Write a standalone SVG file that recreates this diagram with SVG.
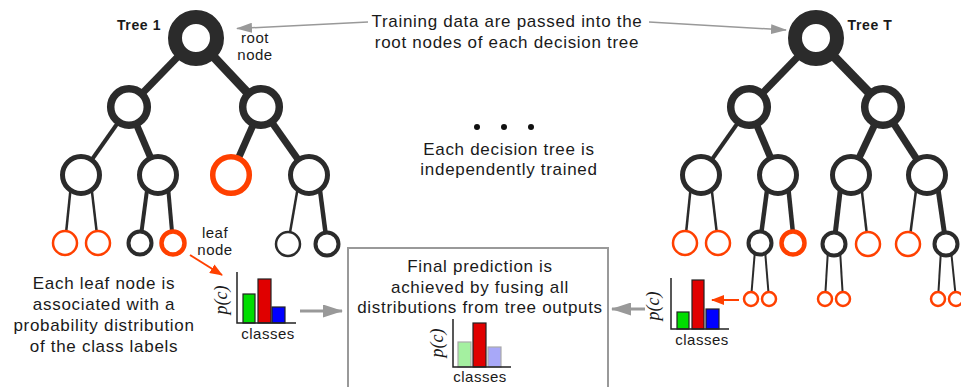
<svg xmlns="http://www.w3.org/2000/svg" width="961" height="387" viewBox="0 0 961 387">
<defs>
<style>
.e{stroke:#2b2b2b;fill:none}
.n{fill:#fff;stroke:#2b2b2b}
.o{fill:#fff;stroke:#ff4000}
.t{font-family:"Liberation Sans",Arial,sans-serif;font-size:17px;letter-spacing:0.7px;fill:#1a1a1a;text-anchor:middle}
.s{font-size:15px;letter-spacing:0.5px}
.b{font-size:14px;font-weight:bold;letter-spacing:0.6px}
.pc{font-family:"Liberation Serif","Times New Roman",serif;font-style:italic;font-size:18px;fill:#1a1a1a;text-anchor:middle}
.ax{stroke:#222;stroke-width:1.5;fill:none}
.g1{stroke:#999;stroke-width:1.5;fill:none}
.g3{stroke:#999;stroke-width:3;fill:none}
.or{stroke:#ff4000;stroke-width:2;fill:none}
</style>
<marker id="ahg" markerUnits="userSpaceOnUse" markerWidth="16" markerHeight="10" refX="15" refY="5" orient="auto"><path d="M0,0L16,5L0,10z" fill="#999"/></marker>
<marker id="ahg2" markerUnits="userSpaceOnUse" markerWidth="20" markerHeight="13" refX="19" refY="6.5" orient="auto"><path d="M0,0L20,6.5L0,13z" fill="#999"/></marker>
<marker id="aho" markerUnits="userSpaceOnUse" markerWidth="13" markerHeight="10" refX="12" refY="5" orient="auto"><path d="M0,0L13,5L0,10z" fill="#ff4000"/></marker>
</defs>
<rect width="961" height="387" fill="#fff"/>

<g id="connectors">
<!-- Tree 1 edges -->
<line class="e" stroke-width="7" x1="196" y1="38" x2="129" y2="107"/>
<line class="e" stroke-width="9" x1="196" y1="38" x2="261" y2="107"/>
<line class="e" stroke-width="4" x1="129" y1="107" x2="81" y2="175"/>
<line class="e" stroke-width="7" x1="129" y1="107" x2="158" y2="175"/>
<line class="e" stroke-width="7" x1="261" y1="107" x2="231" y2="175"/>
<line class="e" stroke-width="7" x1="261" y1="107" x2="309" y2="175"/>
<line class="e" stroke-width="2.5" x1="72" y1="175" x2="65" y2="243"/>
<line class="e" stroke-width="2.5" x1="90" y1="175" x2="98" y2="243"/>
<line class="e" stroke-width="4" x1="149" y1="175" x2="140" y2="243"/>
<line class="e" stroke-width="4" x1="167" y1="175" x2="173" y2="243"/>
<line class="e" stroke-width="2.5" x1="300" y1="175" x2="288" y2="244"/>
<line class="e" stroke-width="4.5" x1="318" y1="175" x2="327" y2="244"/>
<!-- Tree T edges -->
<line class="e" stroke-width="7" x1="816" y1="38" x2="749" y2="107"/>
<line class="e" stroke-width="9" x1="816" y1="38" x2="883" y2="107"/>
<line class="e" stroke-width="4" x1="749" y1="107" x2="701" y2="175"/>
<line class="e" stroke-width="7" x1="749" y1="107" x2="778" y2="175"/>
<line class="e" stroke-width="7" x1="883" y1="107" x2="851" y2="175"/>
<line class="e" stroke-width="7" x1="883" y1="107" x2="927" y2="175"/>
<line class="e" stroke-width="2.5" x1="692" y1="175" x2="685" y2="243"/>
<line class="e" stroke-width="2.5" x1="710" y1="175" x2="718" y2="243"/>
<line class="e" stroke-width="4.5" x1="769" y1="175" x2="760" y2="243"/>
<line class="e" stroke-width="4.5" x1="787" y1="175" x2="794" y2="243"/>
<line class="e" stroke-width="5" x1="842" y1="175" x2="834" y2="244"/>
<line class="e" stroke-width="2.5" x1="860" y1="175" x2="868" y2="244"/>
<line class="e" stroke-width="2.5" x1="918" y1="175" x2="909" y2="244"/>
<line class="e" stroke-width="5" x1="936" y1="175" x2="946" y2="244"/>
<line class="e" stroke-width="2" x1="755" y1="250" x2="751" y2="299"/>
<line class="e" stroke-width="2" x1="765" y1="250" x2="769" y2="299"/>
<line class="e" stroke-width="2" x1="828" y1="250" x2="825" y2="299"/>
<line class="e" stroke-width="2" x1="840" y1="250" x2="843" y2="299"/>
<line class="e" stroke-width="2" x1="941" y1="250" x2="938" y2="299"/>
<line class="e" stroke-width="2" x1="951" y1="250" x2="956" y2="299"/>
<!-- annotation arrows -->
<path class="g1" d="M368,22L237,28.5" marker-end="url(#ahg)"/>
<path class="g1" d="M649,22L786,30" marker-end="url(#ahg)"/>
<path class="or" d="M190,255L222,275" marker-end="url(#aho)"/>
<path class="or" d="M739,300L712,300" marker-end="url(#aho)"/>
<path class="g3" d="M300,311L342,311" marker-end="url(#ahg2)"/>
<path class="g3" d="M645,309L612,309" marker-end="url(#ahg2)"/>
</g>

<g id="tree1">
<g id="t1-root"><circle class="n" cx="196" cy="38" r="21" stroke-width="14"/></g>
<g id="t1-l"><circle class="n" cx="129" cy="107" r="18.3" stroke-width="7.5"/></g>
<g id="t1-r"><circle class="n" cx="261" cy="107" r="18.3" stroke-width="7.5"/></g>
<g id="t1-ll"><circle class="n" cx="81" cy="175" r="18.5" stroke-width="5"/></g>
<g id="t1-lr"><circle class="n" cx="158" cy="175" r="18.5" stroke-width="5"/></g>
<g id="t1-rl"><circle class="o" cx="231" cy="175" r="18.3" stroke-width="5.5"/></g>
<g id="t1-rr"><circle class="n" cx="309" cy="175" r="18.5" stroke-width="5"/></g>
<g id="t1-lll"><circle class="o" cx="65" cy="243" r="12" stroke-width="2.5"/></g>
<g id="t1-llr"><circle class="o" cx="98" cy="243" r="12" stroke-width="2.5"/></g>
<g id="t1-lrl"><circle class="n" cx="140" cy="243" r="11.5" stroke-width="4"/></g>
<g id="t1-lrr"><circle class="o" cx="173" cy="243" r="11.5" stroke-width="4.5"/></g>
<g id="t1-rrl"><circle class="n" cx="288" cy="244" r="12" stroke-width="2.5"/></g>
<g id="t1-rrr"><circle class="n" cx="327" cy="244" r="11.5" stroke-width="4"/></g>
</g>

<g id="treeT">
<g id="tT-root"><circle class="n" cx="816" cy="38" r="21" stroke-width="14"/></g>
<g id="tT-l"><circle class="n" cx="749" cy="107" r="18.3" stroke-width="7.5"/></g>
<g id="tT-r"><circle class="n" cx="883" cy="107" r="18.3" stroke-width="7.5"/></g>
<g id="tT-ll"><circle class="n" cx="701" cy="175" r="18.5" stroke-width="5"/></g>
<g id="tT-lr"><circle class="n" cx="778" cy="175" r="18.5" stroke-width="5"/></g>
<g id="tT-rl"><circle class="n" cx="851" cy="175" r="18.5" stroke-width="5"/></g>
<g id="tT-rr"><circle class="n" cx="927" cy="175" r="18.5" stroke-width="5"/></g>
<g id="tT-lll"><circle class="o" cx="685" cy="243" r="12" stroke-width="2.5"/></g>
<g id="tT-llr"><circle class="o" cx="718" cy="243" r="12" stroke-width="2.5"/></g>
<g id="tT-lrl"><circle class="n" cx="760" cy="243" r="11.5" stroke-width="4"/></g>
<g id="tT-lrr"><circle class="o" cx="793" cy="243" r="11.5" stroke-width="4.5"/></g>
<g id="tT-rll"><circle class="n" cx="834" cy="244" r="11.5" stroke-width="4"/></g>
<g id="tT-rlr"><circle class="o" cx="868" cy="244" r="12" stroke-width="2.5"/></g>
<g id="tT-rrl"><circle class="o" cx="908" cy="244" r="12" stroke-width="2.5"/></g>
<g id="tT-rrr"><circle class="n" cx="946" cy="244" r="11.5" stroke-width="4"/></g>
<g id="tT-l5a"><circle class="o" cx="751" cy="299" r="7" stroke-width="2.5"/></g>
<g id="tT-l5b"><circle class="o" cx="769" cy="299" r="7" stroke-width="2.5"/></g>
<g id="tT-l5c"><circle class="o" cx="825" cy="299" r="7" stroke-width="2.5"/></g>
<g id="tT-l5d"><circle class="o" cx="843" cy="299" r="7" stroke-width="2.5"/></g>
<g id="tT-l5e"><circle class="o" cx="938" cy="299" r="7" stroke-width="2.5"/></g>
<g id="tT-l5f"><circle class="o" cx="956" cy="299" r="7" stroke-width="2.5"/></g>
</g>

<g id="hist-leaf1">
<rect x="243" y="294" width="12" height="29" fill="#00dd00" stroke="#222" stroke-width="1.2"/>
<rect x="258" y="279" width="13" height="44" fill="#e00000" stroke="#222" stroke-width="1.2"/>
<rect x="272" y="307" width="13" height="16" fill="#0000ff" stroke="#222" stroke-width="1.2"/>
<path class="ax" d="M237,272V323H296"/>
<text class="pc" transform="translate(227,300) rotate(-90)">p(c)</text>
<text class="t s" x="268" y="339">classes</text>
</g>

<g id="hist-leafT">
<rect x="677" y="312" width="12" height="17" fill="#00dd00" stroke="#222" stroke-width="1.2"/>
<rect x="692" y="280" width="12" height="49" fill="#e00000" stroke="#222" stroke-width="1.2"/>
<rect x="706" y="309" width="13" height="20" fill="#0000ff" stroke="#222" stroke-width="1.2"/>
<path class="ax" d="M671,278V329H729"/>
<text class="pc" transform="translate(659,306) rotate(-90)">p(c)</text>
<text class="t s" x="702" y="345">classes</text>
</g>

<g id="final-box">
<rect x="348" y="248" width="260" height="150" fill="none" stroke="#999" stroke-width="2"/>
<text class="t" x="480" y="272">Final prediction is</text>
<text class="t" x="480" y="293">achieved by fusing all</text>
<text class="t" x="480" y="313">distributions from tree outputs</text>
<rect x="458" y="342" width="13" height="25" fill="#a4f0a0" stroke="#aaa" stroke-width="1.2"/>
<rect x="473" y="323" width="13" height="44" fill="#e00000" stroke="#222" stroke-width="1.2"/>
<rect x="488" y="347" width="13" height="20" fill="#a8a8f8" stroke="#aaa" stroke-width="1.2"/>
<path class="ax" d="M453,319V367H511"/>
<text class="pc" transform="translate(443,343) rotate(-90)">p(c)</text>
<text class="t s" x="480" y="382">classes</text>
</g>

<g id="labels">
<text class="t b" x="139" y="30">Tree 1</text>
<text class="t b" x="870" y="30">Tree T</text>
<text class="t s" x="255" y="43">root</text>
<text class="t s" x="255" y="60">node</text>
<text class="t s" x="215" y="238">leaf</text>
<text class="t s" x="215" y="255">node</text>
<text class="t" x="507" y="27">Training data are passed into the</text>
<text class="t" x="507" y="48">root nodes of each decision tree</text>
<circle cx="477" cy="127" r="3" fill="#111"/>
<circle cx="504" cy="127" r="3" fill="#111"/>
<circle cx="531" cy="127" r="3" fill="#111"/>
<text class="t" x="509" y="155">Each decision tree is</text>
<text class="t" x="509" y="175">independently trained</text>
<text class="t" x="104" y="289">Each leaf node is</text>
<text class="t" x="104" y="310">associated with a</text>
<text class="t" x="104" y="331">probability distribution</text>
<text class="t" x="104" y="352">of the class labels</text>
</g>
</svg>
